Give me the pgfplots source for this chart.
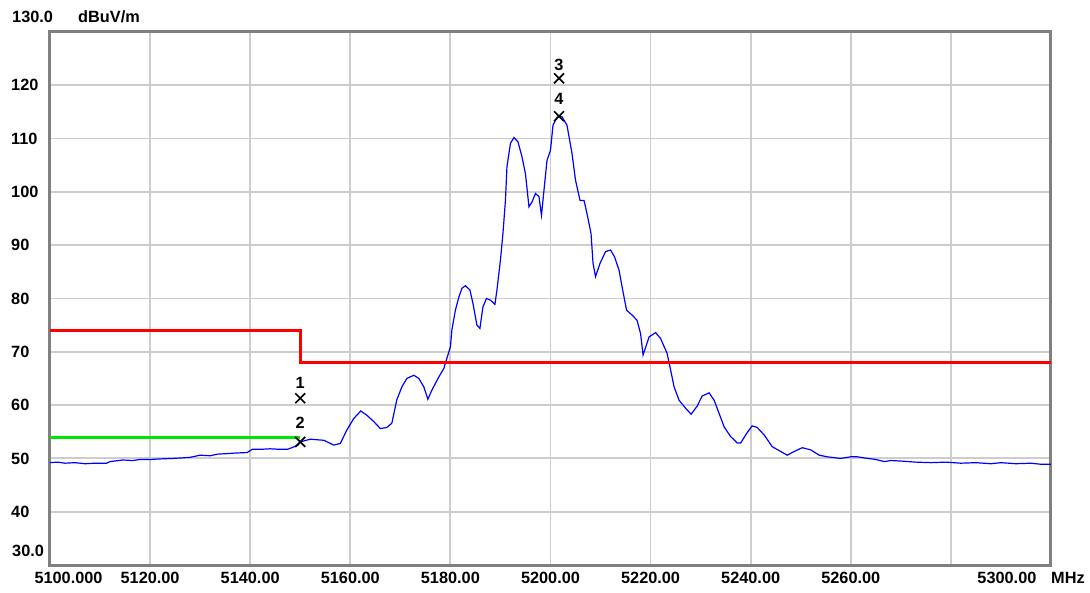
\documentclass[border=0pt]{standalone}
\usepackage{pgfplots}
\pgfplotsset{compat=1.18}
\usepackage{fontspec}
\setmainfont{Liberation Sans}
\definecolor{framec}{RGB}{128,128,128}
\definecolor{gridc}{RGB}{205,205,205}
\definecolor{limred}{RGB}{255,0,0}
\definecolor{limgreen}{RGB}{0,230,0}
\definecolor{tracec}{RGB}{0,0,255}

\begin{document}
\begin{tikzpicture}[font=\fontsize{16.3}{19}\selectfont\bfseries]
\useasboundingbox (-50pt,-27pt) rectangle (1040pt,565pt);
\begin{axis}[
  scale only axis, width=1001pt, height=533pt,
  at={(0pt,0pt)}, anchor=south west,
  xmin=5100, xmax=5300, ymin=30, ymax=130,
  axis line style={draw=framec, line width=3pt},
  grid=major, grid style={draw=gridc, line width=1.8pt},
  major tick length=0pt,
  xtick={5120,5140,...,5280},
  xticklabels={5120.00,5140.00,5160.00,5180.00,5200.00,5220.00,5240.00,5260.00,{}},
  extra x ticks={5103.7,5291.2},
  extra x tick labels={5100.000,5300.00},
  extra x tick style={grid=none},
  xticklabel style={anchor=center, inner sep=0pt, yshift=-13pt},
  ytick={40,50,...,120},
  yticklabels={40,50,60,70,80,90,100,110,120},
  yticklabel style={anchor=west, inner sep=0pt, xshift=-39pt},
  clip=false,
]
% measured spectrum trace
\addplot[tracec, line width=1.2pt] coordinates {
(5100.0,49.2) (5101.5,49.3) (5103,49.1) (5105,49.2) (5107,49.0) (5109,49.1)
(5111.3,49.1) (5112,49.4) (5114.6,49.7) (5116.5,49.6) (5118,49.8) (5120,49.8)
(5122,49.9) (5124.6,50.0) (5126.5,50.1) (5128,50.2) (5130,50.6) (5132,50.5)
(5133.5,50.8) (5135.4,50.9) (5137,51.0) (5139.4,51.1) (5140.4,51.7) (5142,51.7)
(5144,51.8) (5146,51.7) (5147.4,51.7) (5148.6,52.1) (5149.6,52.5) (5150,53.1)
(5152,53.6) (5154.7,53.4) (5156.7,52.5) (5158,52.8) (5159.3,55.3) (5160.7,57.5)
(5162.1,58.9) (5163.3,58.1) (5164.7,56.9) (5166,55.6) (5167.3,55.8) (5168.3,56.6)
(5169.3,61.0) (5170.3,63.4) (5171.3,65.0) (5172.7,65.6) (5173.7,65.0) (5174.7,63.4)
(5175.5,61.1) (5176.3,62.8) (5177.7,65.3) (5178.7,66.9) (5179.3,68.8) (5180,70.9)
(5180.3,74.1) (5181,77.8) (5181.7,80.3) (5182.3,81.9) (5183,82.4) (5183.9,81.6)
(5184.5,79.1) (5185.3,75.0) (5185.9,74.4) (5186.5,78.4) (5187.2,80.0) (5188,79.7)
(5188.9,78.9) (5189.3,81.6) (5190,87.2) (5190.5,92.2) (5191,98.4) (5191.3,104.7)
(5192,109.1) (5192.7,110.2) (5193.5,109.4) (5194.3,106.6) (5195,103.4) (5195.7,97.2)
(5196.3,98.1) (5197,99.7) (5197.7,99.1) (5198.2,95.6) (5198.7,100.3) (5199.3,105.9)
(5200,107.8) (5200.5,112.5) (5201.3,114.0) (5201.7,114.2) (5202.3,114.1) (5203.3,112.5)
(5203.6,110.9) (5204.3,107.2) (5205,102.2) (5205.9,98.4) (5206.7,98.4) (5207.3,95.9)
(5208.1,92.2) (5208.5,86.6) (5209,84.1) (5209.9,86.6) (5211,88.8) (5212,89.1)
(5212.8,87.8) (5213.7,85.3) (5214.3,82.2) (5215.2,77.8) (5216.3,76.9) (5217.3,75.9)
(5218,73.4) (5218.5,69.4) (5219.7,72.8) (5221,73.6) (5222,72.5) (5223.3,69.7)
(5224,66.6) (5224.7,63.4) (5225.7,60.9) (5227,59.4) (5228.1,58.3) (5229.3,59.8)
(5230.3,61.7) (5231.7,62.3) (5232.7,60.9) (5233.7,58.4) (5234.7,55.9) (5236,54.1)
(5237.3,52.9) (5238,52.9) (5239.2,54.7) (5240.3,56.1) (5241.3,55.8) (5242.7,54.4)
(5244.3,52.2) (5246,51.3) (5247.3,50.6) (5248.7,51.3) (5250.3,52.0) (5252,51.6)
(5253.7,50.6) (5255.3,50.3) (5257,50.1) (5258,50.0) (5260,50.3) (5261.3,50.3)
(5263.3,50.0) (5265,49.8) (5266.7,49.4) (5268,49.6) (5270,49.5) (5273,49.3)
(5276,49.2) (5279,49.3) (5282,49.1) (5285,49.2) (5288,49.0) (5290,49.2)
(5293,49.0) (5296,49.1) (5298,48.9) (5300,48.9)
};
% limit lines
\addplot[limred, line width=3pt] coordinates {(5100,74) (5150,74) (5150,68) (5300,68)};
\addplot[limgreen, line width=3pt] coordinates {(5100,54) (5150,54)};
% markers
\addplot[only marks, mark=x, mark size=7pt, black, line width=1.6pt]
  coordinates {(5150,61.3) (5150,53.1) (5201.7,121.3) (5201.7,114.2)};
\node[inner sep=0pt, yshift=15pt] at (axis cs:5150,61.3) {1};
\node[inner sep=0pt, yshift=19pt] at (axis cs:5150,53.1) {2};
\node[inner sep=0pt, yshift=13pt] at (axis cs:5201.7,121.3) {3};
\node[inner sep=0pt, yshift=17pt] at (axis cs:5201.7,114.2) {4};
% scale annotations
\node[anchor=west, inner sep=0pt, xshift=-38pt, yshift=15pt] at (rel axis cs:0,1) {130.0};
\node[anchor=west, inner sep=0pt, xshift=28pt, yshift=15pt] at (rel axis cs:0,1) {dBuV/m};
\node[anchor=west, inner sep=0pt, xshift=-38pt, yshift=14.5pt] at (rel axis cs:0,0) {30.0};
\node[inner sep=0pt, xshift=17pt, yshift=-13pt] at (rel axis cs:1,0) {MHz};
\end{axis}
\end{tikzpicture}
\end{document}
